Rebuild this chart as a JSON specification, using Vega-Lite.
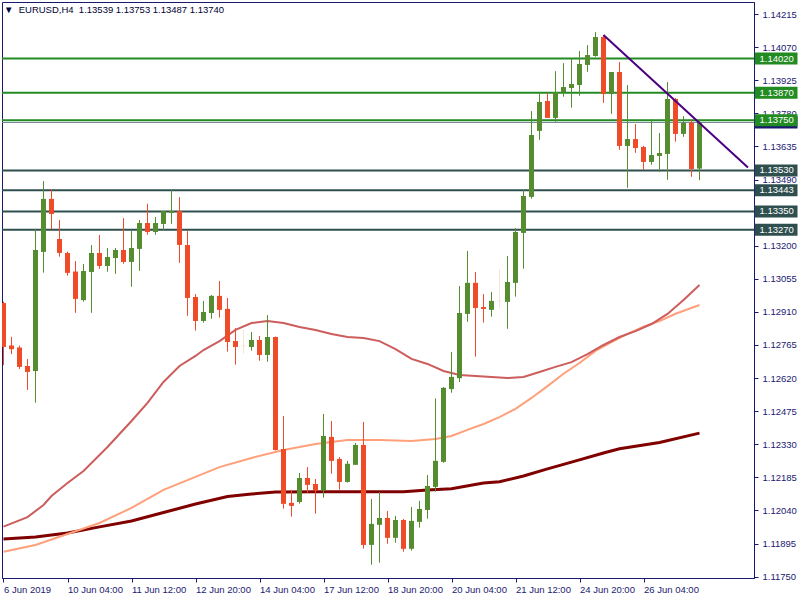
{
  "$schema": "https://vega.github.io/schema/vega-lite/v6.json",
  "width": 752,
  "height": 576,
  "autosize": {"type": "none"},
  "padding": {"left": 2, "top": 2, "right": 46, "bottom": 22},
  "background": "white",
  "config": {
    "view": {"stroke": "#191970", "strokeWidth": 1},
    "font": "Liberation Sans",
    "scale": {"continuousPadding": 0},
    "axis": {"grid": false, "tickSize": 4, "tickColor": "#191970", "domainColor": "#191970", "labelFont": "Liberation Sans", "labelFontSize": 9.5, "labelColor": "#1a1a70", "labelOverlap": false, "labelBound": false, "labelFlush": false}
  },
  "title": {
    "text": "▼\u00a0\u00a0EURUSD,H4\u00a0\u00a01.13539 1.13753 1.13487 1.13740",
    "anchor": "start",
    "frame": "group",
    "orient": "top",
    "offset": 0,
    "baseline": "top",
    "dy": 12,
    "dx": 2,
    "font": "Liberation Sans",
    "fontSize": 9.5,
    "fontWeight": "normal",
    "color": "#000033"
  },
  "datasets": {
    "candles": [
      {"i":0,"o":1.12948,"h":1.12955,"l":1.12677,"c":1.12757},
      {"i":1,"o":1.12762,"h":1.12801,"l":1.12725,"c":1.12747},
      {"i":2,"o":1.12753,"h":1.12762,"l":1.12660,"c":1.12670},
      {"i":3,"o":1.12673,"h":1.12704,"l":1.12568,"c":1.12648},
      {"i":4,"o":1.12651,"h":1.13272,"l":1.12512,"c":1.13181},
      {"i":5,"o":1.13174,"h":1.13483,"l":1.13082,"c":1.13405},
      {"i":6,"o":1.13405,"h":1.13448,"l":1.13273,"c":1.13340},
      {"i":7,"o":1.13229,"h":1.13313,"l":1.13152,"c":1.13169},
      {"i":8,"o":1.13168,"h":1.13174,"l":1.13069,"c":1.13082},
      {"i":9,"o":1.13086,"h":1.13133,"l":1.12906,"c":1.12968},
      {"i":10,"o":1.12962,"h":1.13120,"l":1.12955,"c":1.13089},
      {"i":11,"o":1.13086,"h":1.13203,"l":1.12906,"c":1.13168},
      {"i":12,"o":1.13168,"h":1.13247,"l":1.13099,"c":1.13112},
      {"i":13,"o":1.13112,"h":1.13190,"l":1.13086,"c":1.13150},
      {"i":14,"o":1.13147,"h":1.13190,"l":1.13077,"c":1.13181},
      {"i":15,"o":1.13181,"h":1.13321,"l":1.13121,"c":1.13130},
      {"i":16,"o":1.13130,"h":1.13266,"l":1.13020,"c":1.13190},
      {"i":17,"o":1.13187,"h":1.13313,"l":1.13090,"c":1.13299},
      {"i":18,"o":1.13299,"h":1.13384,"l":1.13248,"c":1.13261},
      {"i":19,"o":1.13261,"h":1.13326,"l":1.13248,"c":1.13299},
      {"i":20,"o":1.13296,"h":1.13352,"l":1.13266,"c":1.13352},
      {"i":21,"o":1.13345,"h":1.13444,"l":1.13296,"c":1.13352},
      {"i":22,"o":1.13352,"h":1.13413,"l":1.13125,"c":1.13204},
      {"i":23,"o":1.13203,"h":1.13264,"l":1.12893,"c":1.12972},
      {"i":24,"o":1.12975,"h":1.12988,"l":1.12828,"c":1.12871},
      {"i":25,"o":1.12871,"h":1.12958,"l":1.12863,"c":1.12909},
      {"i":26,"o":1.12906,"h":1.12984,"l":1.12880,"c":1.12980},
      {"i":27,"o":1.12980,"h":1.13045,"l":1.12885,"c":1.12920},
      {"i":28,"o":1.12923,"h":1.12971,"l":1.12736,"c":1.12779},
      {"i":29,"o":1.12782,"h":1.12839,"l":1.12679,"c":1.12757},
      {"i":30,"o":1.12761,"h":1.12831,"l":1.12727,"c":1.12761},
      {"i":31,"o":1.12757,"h":1.12822,"l":1.12740,"c":1.12787},
      {"i":32,"o":1.12787,"h":1.12804,"l":1.12696,"c":1.12722},
      {"i":33,"o":1.12722,"h":1.12896,"l":1.12692,"c":1.12800},
      {"i":34,"o":1.12800,"h":1.12802,"l":1.12303,"c":1.12305},
      {"i":35,"o":1.12309,"h":1.12454,"l":1.12048,"c":1.12070},
      {"i":36,"o":1.12073,"h":1.12130,"l":1.12013,"c":1.12061},
      {"i":37,"o":1.12078,"h":1.12204,"l":1.12070,"c":1.12182},
      {"i":38,"o":1.12182,"h":1.12230,"l":1.12118,"c":1.12153},
      {"i":39,"o":1.12156,"h":1.12178,"l":1.12026,"c":1.12127},
      {"i":40,"o":1.12127,"h":1.12463,"l":1.12096,"c":1.12366},
      {"i":41,"o":1.12362,"h":1.12432,"l":1.12201,"c":1.12258},
      {"i":42,"o":1.12265,"h":1.12274,"l":1.12131,"c":1.12166},
      {"i":43,"o":1.12166,"h":1.12257,"l":1.12162,"c":1.12244},
      {"i":44,"o":1.12241,"h":1.12336,"l":1.12241,"c":1.12327},
      {"i":45,"o":1.12327,"h":1.12428,"l":1.11873,"c":1.11890},
      {"i":46,"o":1.11890,"h":1.12090,"l":1.11802,"c":1.11981},
      {"i":47,"o":1.11978,"h":1.12121,"l":1.11811,"c":1.12007},
      {"i":48,"o":1.12007,"h":1.12038,"l":1.11894,"c":1.11921},
      {"i":49,"o":1.11921,"h":1.12016,"l":1.11899,"c":1.11998},
      {"i":50,"o":1.11998,"h":1.12003,"l":1.11859,"c":1.11873},
      {"i":51,"o":1.11873,"h":1.12055,"l":1.11864,"c":1.11994},
      {"i":52,"o":1.11991,"h":1.12082,"l":1.11965,"c":1.12046},
      {"i":53,"o":1.12043,"h":1.12195,"l":1.12004,"c":1.12147},
      {"i":54,"o":1.12144,"h":1.12531,"l":1.12122,"c":1.12257},
      {"i":55,"o":1.12254,"h":1.12581,"l":1.12249,"c":1.12577},
      {"i":56,"o":1.12572,"h":1.12734,"l":1.12556,"c":1.12625},
      {"i":57,"o":1.12620,"h":1.13023,"l":1.12603,"c":1.12905},
      {"i":58,"o":1.12902,"h":1.13177,"l":1.12867,"c":1.13037},
      {"i":59,"o":1.13037,"h":1.13085,"l":1.12714,"c":1.12928},
      {"i":60,"o":1.12931,"h":1.12988,"l":1.12863,"c":1.12924},
      {"i":61,"o":1.12920,"h":1.12997,"l":1.12889,"c":1.12958},
      {"i":62,"o":1.12958,"h":1.13098,"l":1.12928,"c":1.12958},
      {"i":63,"o":1.12955,"h":1.13155,"l":1.12836,"c":1.13041},
      {"i":64,"o":1.13038,"h":1.13278,"l":1.12977,"c":1.13260},
      {"i":65,"o":1.13257,"h":1.13446,"l":1.13099,"c":1.13418},
      {"i":66,"o":1.13415,"h":1.13790,"l":1.13406,"c":1.13685},
      {"i":67,"o":1.13704,"h":1.13870,"l":1.13664,"c":1.13829},
      {"i":68,"o":1.13834,"h":1.13870,"l":1.13761,"c":1.13761},
      {"i":69,"o":1.13761,"h":1.13965,"l":1.13743,"c":1.13873},
      {"i":70,"o":1.13873,"h":1.14000,"l":1.13853,"c":1.13895},
      {"i":71,"o":1.13892,"h":1.14018,"l":1.13805,"c":1.13908},
      {"i":72,"o":1.13905,"h":1.14053,"l":1.13857,"c":1.13996},
      {"i":73,"o":1.13993,"h":1.14079,"l":1.13962,"c":1.14035},
      {"i":74,"o":1.14032,"h":1.14136,"l":1.14028,"c":1.14114},
      {"i":75,"o":1.14114,"h":1.14123,"l":1.13826,"c":1.13866},
      {"i":76,"o":1.13866,"h":1.13961,"l":1.13778,"c":1.13961},
      {"i":77,"o":1.13961,"h":1.14005,"l":1.13620,"c":1.13638},
      {"i":78,"o":1.13638,"h":1.13904,"l":1.13454,"c":1.13667},
      {"i":79,"o":1.13667,"h":1.13733,"l":1.13607,"c":1.13629},
      {"i":80,"o":1.13632,"h":1.13638,"l":1.13533,"c":1.13568},
      {"i":81,"o":1.13568,"h":1.13755,"l":1.13555,"c":1.13597},
      {"i":82,"o":1.13594,"h":1.13694,"l":1.13524,"c":1.13606},
      {"i":83,"o":1.13603,"h":1.13917,"l":1.13489,"c":1.13843},
      {"i":84,"o":1.13843,"h":1.13847,"l":1.13656,"c":1.13691},
      {"i":85,"o":1.13691,"h":1.13768,"l":1.13677,"c":1.13739},
      {"i":86,"o":1.13739,"h":1.13752,"l":1.13502,"c":1.13537},
      {"i":87,"o":1.13539,"h":1.13753,"l":1.13487,"c":1.13740}
    ],
    "ma1": [
      {"i":0,"v":1.11969},{"i":3,"v":1.12011},{"i":5,"v":1.12064},{"i":6,"v":1.12103},{"i":8,"v":1.12160},
      {"i":10,"v":1.12213},{"i":13,"v":1.12318},{"i":16,"v":1.12432},{"i":18,"v":1.12511},{"i":20,"v":1.12603},
      {"i":22,"v":1.12673},{"i":24,"v":1.12717},{"i":25,"v":1.12743},{"i":27,"v":1.12782},{"i":29,"v":1.12831},
      {"i":31,"v":1.12861},{"i":33,"v":1.12870},{"i":35,"v":1.12861},{"i":37,"v":1.12844},{"i":39,"v":1.12831},
      {"i":41,"v":1.12813},{"i":43,"v":1.12800},{"i":45,"v":1.12796},{"i":47,"v":1.12782},{"i":49,"v":1.12747},
      {"i":51,"v":1.12704},{"i":53,"v":1.12682},{"i":55,"v":1.12651},{"i":57,"v":1.12634},{"i":59,"v":1.12629},
      {"i":61,"v":1.12625},{"i":63,"v":1.12620},{"i":65,"v":1.12625},{"i":67,"v":1.12647},{"i":69,"v":1.12669},
      {"i":71,"v":1.12690},{"i":73,"v":1.12725},{"i":75,"v":1.12765},{"i":77,"v":1.12800},{"i":79,"v":1.12826},
      {"i":81,"v":1.12857},{"i":83,"v":1.12901},{"i":85,"v":1.12962},{"i":87,"v":1.13028}
    ],
    "ma2": [
      {"i":0,"v":1.11859},{"i":4,"v":1.11889},{"i":8,"v":1.11937},{"i":12,"v":1.11985},{"i":16,"v":1.12051},
      {"i":20,"v":1.12130},{"i":24,"v":1.12187},{"i":27,"v":1.12230},{"i":31,"v":1.12270},{"i":35,"v":1.12305},
      {"i":39,"v":1.12331},{"i":43,"v":1.12349},{"i":47,"v":1.12349},{"i":51,"v":1.12344},{"i":54,"v":1.12353},
      {"i":56,"v":1.12366},{"i":58,"v":1.12393},{"i":60,"v":1.12419},{"i":62,"v":1.12449},{"i":64,"v":1.12485},
      {"i":66,"v":1.12533},{"i":68,"v":1.12585},{"i":70,"v":1.12639},{"i":72,"v":1.12686},{"i":74,"v":1.12739},
      {"i":76,"v":1.12778},{"i":78,"v":1.12814},{"i":80,"v":1.12845},{"i":82,"v":1.12870},{"i":84,"v":1.12902},
      {"i":87,"v":1.12940}
    ],
    "ma3": [
      {"i":0,"v":1.11915},{"i":4,"v":1.11924},{"i":8,"v":1.11941},{"i":12,"v":1.11968},{"i":16,"v":1.11994},
      {"i":20,"v":1.12031},{"i":24,"v":1.12068},{"i":28,"v":1.12101},{"i":31,"v":1.12112},{"i":34,"v":1.12121},
      {"i":40,"v":1.12122},{"i":50,"v":1.12122},{"i":53,"v":1.12130},{"i":56,"v":1.12135},{"i":60,"v":1.12160},
      {"i":62,"v":1.12166},{"i":65,"v":1.12191},{"i":68,"v":1.12222},{"i":71,"v":1.12252},{"i":75,"v":1.12292},
      {"i":77,"v":1.12310},{"i":82,"v":1.12338},{"i":87,"v":1.12379}
    ],
    "trend": [
      {"i":75,"v":1.14123},{"i":93.06,"v":1.13543}
    ],
    "levels": [
      {"p":1.1402,"k":"res"},{"p":1.1387,"k":"res"},{"p":1.1375,"k":"res"},
      {"p":1.1353,"k":"sup"},{"p":1.13443,"k":"sup"},{"p":1.1335,"k":"sup"},{"p":1.1327,"k":"sup"}
    ],
    "bid": [{"p":1.1374}]
  },
  "layer": [
    {
      "data": {"name": "candles"},
      "mark": {"type": "bar", "size": 5, "clip": true},
      "encoding": {
        "x": {"field": "i", "type": "quantitative", "scale": {"domain": [-0.1875, 93.8125], "nice": false, "zero": false, "padding": 0},
          "axis": {"values": [0, 8, 16, 24, 32, 40, 48, 56, 64, 72, 80], "tickCount": 40,
            "labelExpr": "['6 Jun 2019','10 Jun 04:00','11 Jun 12:00','12 Jun 20:00','14 Jun 04:00','17 Jun 12:00','18 Jun 20:00','20 Jun 04:00','21 Jun 12:00','24 Jun 20:00','26 Jun 04:00'][round(datum.value/8)]",
            "title": null, "labelAlign": "left", "labelBaseline": "top", "labelPadding": 2, "labelDx": 1, "labelOverlap": false}},
        "y": {"field": "o", "type": "quantitative", "scale": {"domain": [1.11744, 1.14268], "nice": false, "zero": false, "padding": 0},
          "axis": {"orient": "right", "tickCount": 40,
            "values": [1.14215, 1.1407, 1.13925, 1.1378, 1.13635, 1.1349, 1.132, 1.13055, 1.1291, 1.12765, 1.1262, 1.12475, 1.1233, 1.12185, 1.1204, 1.11895, 1.1175],
            "format": ".5f", "title": null, "labelAlign": "left", "labelBaseline": "middle", "labelPadding": 4, "labelOverlap": false, "labelBound": false, "labelSeparation": 0}},
        "y2": {"field": "c"},
        "color": {"condition": {"test": "datum.c > datum.o", "value": "#568C30"}, "value": "#F04B28"}
      }
    },
    {
      "data": {"name": "levels"},
      "mark": {"type": "rule", "strokeWidth": 2},
      "encoding": {
        "y": {"field": "p", "type": "quantitative", "scale": {"domain": [1.11744, 1.14268], "nice": false, "zero": false, "padding": 0}},
        "color": {"field": "k", "type": "nominal", "scale": {"domain": ["res", "sup"], "range": ["#228B22", "#2F4F4F"]}, "legend": null}
      }
    },
    {
      "data": {"name": "bid"},
      "mark": {"type": "rule", "strokeWidth": 1, "color": "#778899"},
      "encoding": {
        "y": {"field": "p", "type": "quantitative", "scale": {"domain": [1.11744, 1.14268], "nice": false, "zero": false, "padding": 0}}
      }
    },
    {
      "data": {"name": "ma3"},
      "mark": {"type": "line", "strokeWidth": 3, "color": "#800000", "clip": true},
      "encoding": {
        "x": {"field": "i", "type": "quantitative", "scale": {"domain": [-0.1875, 93.8125], "nice": false, "zero": false, "padding": 0}},
        "y": {"field": "v", "type": "quantitative", "scale": {"domain": [1.11744, 1.14268], "nice": false, "zero": false, "padding": 0}}
      }
    },
    {
      "data": {"name": "ma2"},
      "mark": {"type": "line", "strokeWidth": 2, "color": "#FFA07A", "clip": true},
      "encoding": {
        "x": {"field": "i", "type": "quantitative", "scale": {"domain": [-0.1875, 93.8125], "nice": false, "zero": false, "padding": 0}},
        "y": {"field": "v", "type": "quantitative", "scale": {"domain": [1.11744, 1.14268], "nice": false, "zero": false, "padding": 0}}
      }
    },
    {
      "data": {"name": "ma1"},
      "mark": {"type": "line", "strokeWidth": 2, "color": "#CD5C5C", "clip": true},
      "encoding": {
        "x": {"field": "i", "type": "quantitative", "scale": {"domain": [-0.1875, 93.8125], "nice": false, "zero": false, "padding": 0}},
        "y": {"field": "v", "type": "quantitative", "scale": {"domain": [1.11744, 1.14268], "nice": false, "zero": false, "padding": 0}}
      }
    },
    {
      "data": {"name": "candles"},
      "mark": {"type": "rule", "strokeWidth": 1, "clip": true},
      "encoding": {
        "x": {"field": "i", "type": "quantitative", "scale": {"domain": [-0.1875, 93.8125], "nice": false, "zero": false, "padding": 0}},
        "y": {"field": "l", "type": "quantitative", "scale": {"domain": [1.11744, 1.14268], "nice": false, "zero": false, "padding": 0}},
        "y2": {"field": "h"},
        "color": {"condition": [{"test": "datum.c > datum.o", "value": "#568C30"}, {"test": "datum.c < datum.o", "value": "#F04B28"}], "value": "#F3E4D6"}
      }
    },
    {
      "data": {"name": "candles"},
      "mark": {"type": "bar", "size": 5, "clip": true},
      "encoding": {
        "x": {"field": "i", "type": "quantitative", "scale": {"domain": [-0.1875, 93.8125], "nice": false, "zero": false, "padding": 0}},
        "y": {"field": "o", "type": "quantitative", "scale": {"domain": [1.11744, 1.14268], "nice": false, "zero": false, "padding": 0}},
        "y2": {"field": "c"},
        "color": {"condition": {"test": "datum.c > datum.o", "value": "#568C30"}, "value": "#F04B28"}
      }
    },
    {
      "data": {"name": "candles"},
      "transform": [{"filter": "datum.o == datum.c"}],
      "mark": {"type": "tick", "orient": "horizontal", "size": 5, "thickness": 1, "color": "#F3E4D6"},
      "encoding": {
        "x": {"field": "i", "type": "quantitative", "scale": {"domain": [-0.1875, 93.8125], "nice": false, "zero": false, "padding": 0}},
        "y": {"field": "o", "type": "quantitative", "scale": {"domain": [1.11744, 1.14268], "nice": false, "zero": false, "padding": 0}}
      }
    },
    {
      "data": {"name": "trend"},
      "mark": {"type": "line", "strokeWidth": 2, "color": "#4B0082"},
      "encoding": {
        "x": {"field": "i", "type": "quantitative", "scale": {"domain": [-0.1875, 93.8125], "nice": false, "zero": false, "padding": 0}},
        "y": {"field": "v", "type": "quantitative", "scale": {"domain": [1.11744, 1.14268], "nice": false, "zero": false, "padding": 0}}
      }
    },
    {
      "data": {"name": "bid"},
      "mark": {"type": "bar", "size": 12, "color": "#191970"},
      "encoding": {
        "x": {"datum": 93.9, "type": "quantitative", "scale": {"domain": [-0.1875, 93.8125], "nice": false, "zero": false, "padding": 0}},
        "x2": {"datum": 99.25},
        "y": {"field": "p", "type": "quantitative", "scale": {"domain": [1.11744, 1.14268], "nice": false, "zero": false, "padding": 0}}
      }
    },
    {
      "data": {"name": "levels"},
      "mark": {"type": "bar", "size": 12},
      "encoding": {
        "x": {"datum": 93.9, "type": "quantitative", "scale": {"domain": [-0.1875, 93.8125], "nice": false, "zero": false, "padding": 0}},
        "x2": {"datum": 99.25},
        "y": {"field": "p", "type": "quantitative", "scale": {"domain": [1.11744, 1.14268], "nice": false, "zero": false, "padding": 0}},
        "color": {"field": "k", "type": "nominal", "scale": {"domain": ["res", "sup"], "range": ["#228B22", "#2F4F4F"]}, "legend": null}
      }
    },
    {
      "data": {"name": "levels"},
      "mark": {"type": "text", "align": "left", "baseline": "middle", "color": "white", "font": "Liberation Sans", "fontSize": 9.5},
      "encoding": {
        "x": {"datum": 94.5, "type": "quantitative", "scale": {"domain": [-0.1875, 93.8125], "nice": false, "zero": false, "padding": 0}},
        "y": {"field": "p", "type": "quantitative", "scale": {"domain": [1.11744, 1.14268], "nice": false, "zero": false, "padding": 0}},
        "text": {"field": "p", "type": "quantitative", "format": ".5f"}
      }
    }
  ]
}
